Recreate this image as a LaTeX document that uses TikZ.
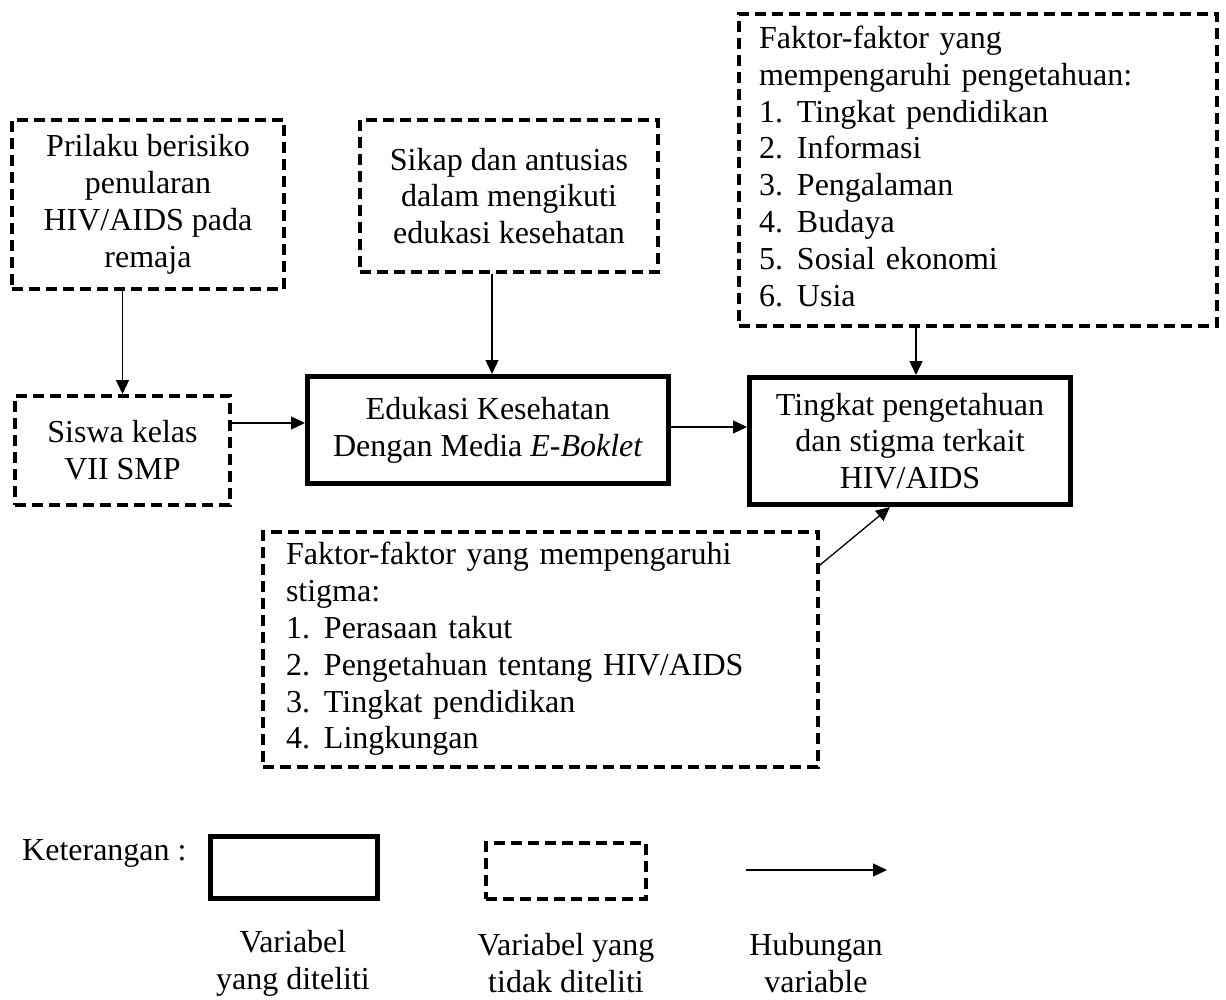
\documentclass[tikz,border=0pt]{standalone}
\usepackage{fontspec}
\setmainfont{Liberation Serif}
\usetikzlibrary{arrows.meta}
\begin{document}
\begin{tikzpicture}[x=1pt,y=-1pt,
  font=\fontsize{32}{36.8}\selectfont,
  solidbox/.style={draw,line width=5pt,rectangle,inner sep=0pt,align=center},
  dashbox/.style={draw,line width=4pt,dash pattern=on 11pt off 6pt,rectangle,inner sep=0pt,align=center},
  listbox/.style={dashbox,align=left,inner ysep=0pt},
  arr/.style={line width=1.3pt,-{Triangle[length=14pt,width=13pt]}},
  lab/.style={inner sep=0pt,align=center}]
\useasboundingbox (0,0) rectangle (1226,1000);
\newcommand{\itm}[2]{\makebox[38pt][l]{#1}#2}

% boxes
\node[dashbox,minimum width=272pt,minimum height=169pt] (A) at (148,204.5)
  {Prilaku berisiko\\penularan\\HIV/AIDS pada\\remaja};
\node[dashbox,minimum width=215pt,minimum height=109pt] (B) at (122.5,450.5)
  {Siswa kelas\\VII SMP};
\node[solidbox,minimum width=361pt,minimum height=107pt] (C) at (488,430)
  {Edukasi Kesehatan\\Dengan Media \textit{E-Boklet}};
\node[solidbox,minimum width=321pt,minimum height=127pt] (D) at (910,441)
  {Tingkat pengetahuan\\dan stigma terkait\\HIV/AIDS};
\node[dashbox,minimum width=298pt,minimum height=152pt] (E) at (509,196)
  {Sikap dan antusias\\dalam mengikuti\\edukasi kesehatan};
\node[listbox,minimum width=478pt,minimum height=312pt,inner xsep=20pt,text width=438pt] (F) at (978,170)
  {\begin{tabular}{@{}l@{}}Faktor-faktor yang\\mempengaruhi pengetahuan:\\\itm{1.}{Tingkat pendidikan}\\\itm{2.}{Informasi}\\\itm{3.}{Pengalaman}\\\itm{4.}{Budaya}\\\itm{5.}{Sosial ekonomi}\\\itm{6.}{Usia}\end{tabular}};
\node[listbox,minimum width=555pt,minimum height=235pt,inner xsep=23pt,text width=509pt] (G) at (540.5,649.5)
  {\begin{tabular}{@{}l@{}}Faktor-faktor yang mempengaruhi\\stigma:\\\itm{1.}{Perasaan takut}\\\itm{2.}{Pengetahuan tentang HIV/AIDS}\\\itm{3.}{Tingkat pendidikan}\\\itm{4.}{Lingkungan}\end{tabular}};

% connectors
\draw[arr] (B.north |- A.south) -- (B.north);
\coordinate (ein) at ([xshift=-17pt]E.south);
\draw[arr] (ein) -- (ein |- C.north);
\coordinate (cin) at ([yshift=7pt]C.west);
\draw[arr] (B.east |- cin) -- (cin);
\coordinate (cout) at ([yshift=3pt]C.east);
\draw[arr] (cout) -- (cout -| D.west);
\coordinate (fd) at ([xshift=6pt]D.north);
\draw[arr] (F.south -| fd) -- (fd);
\draw[arr] ([yshift=-35pt]G.north east) -- ([xshift=-20pt]D.south);

% legend
\node[lab,anchor=west] (ket) at (22,853) {Keterangan :};
\node[solidbox,minimum width=167pt,minimum height=62pt] (L1) at (294,867.5) {};
\node[dashbox,minimum width=160pt,minimum height=56pt] (L2) at (566,871) {};
\coordinate (L3a) at (746,870);
\coordinate (L3b) at (887,870);
\draw[arr] (L3a) -- (L3b);
\node[lab] (T1) at (293,963) {Variabel\\yang diteliti};
\node[lab] (T2) at (566,963) {Variabel yang\\tidak diteliti};
\node[lab] (T3) at (816,963) {Hubungan\\variable};
\end{tikzpicture}
\end{document}
